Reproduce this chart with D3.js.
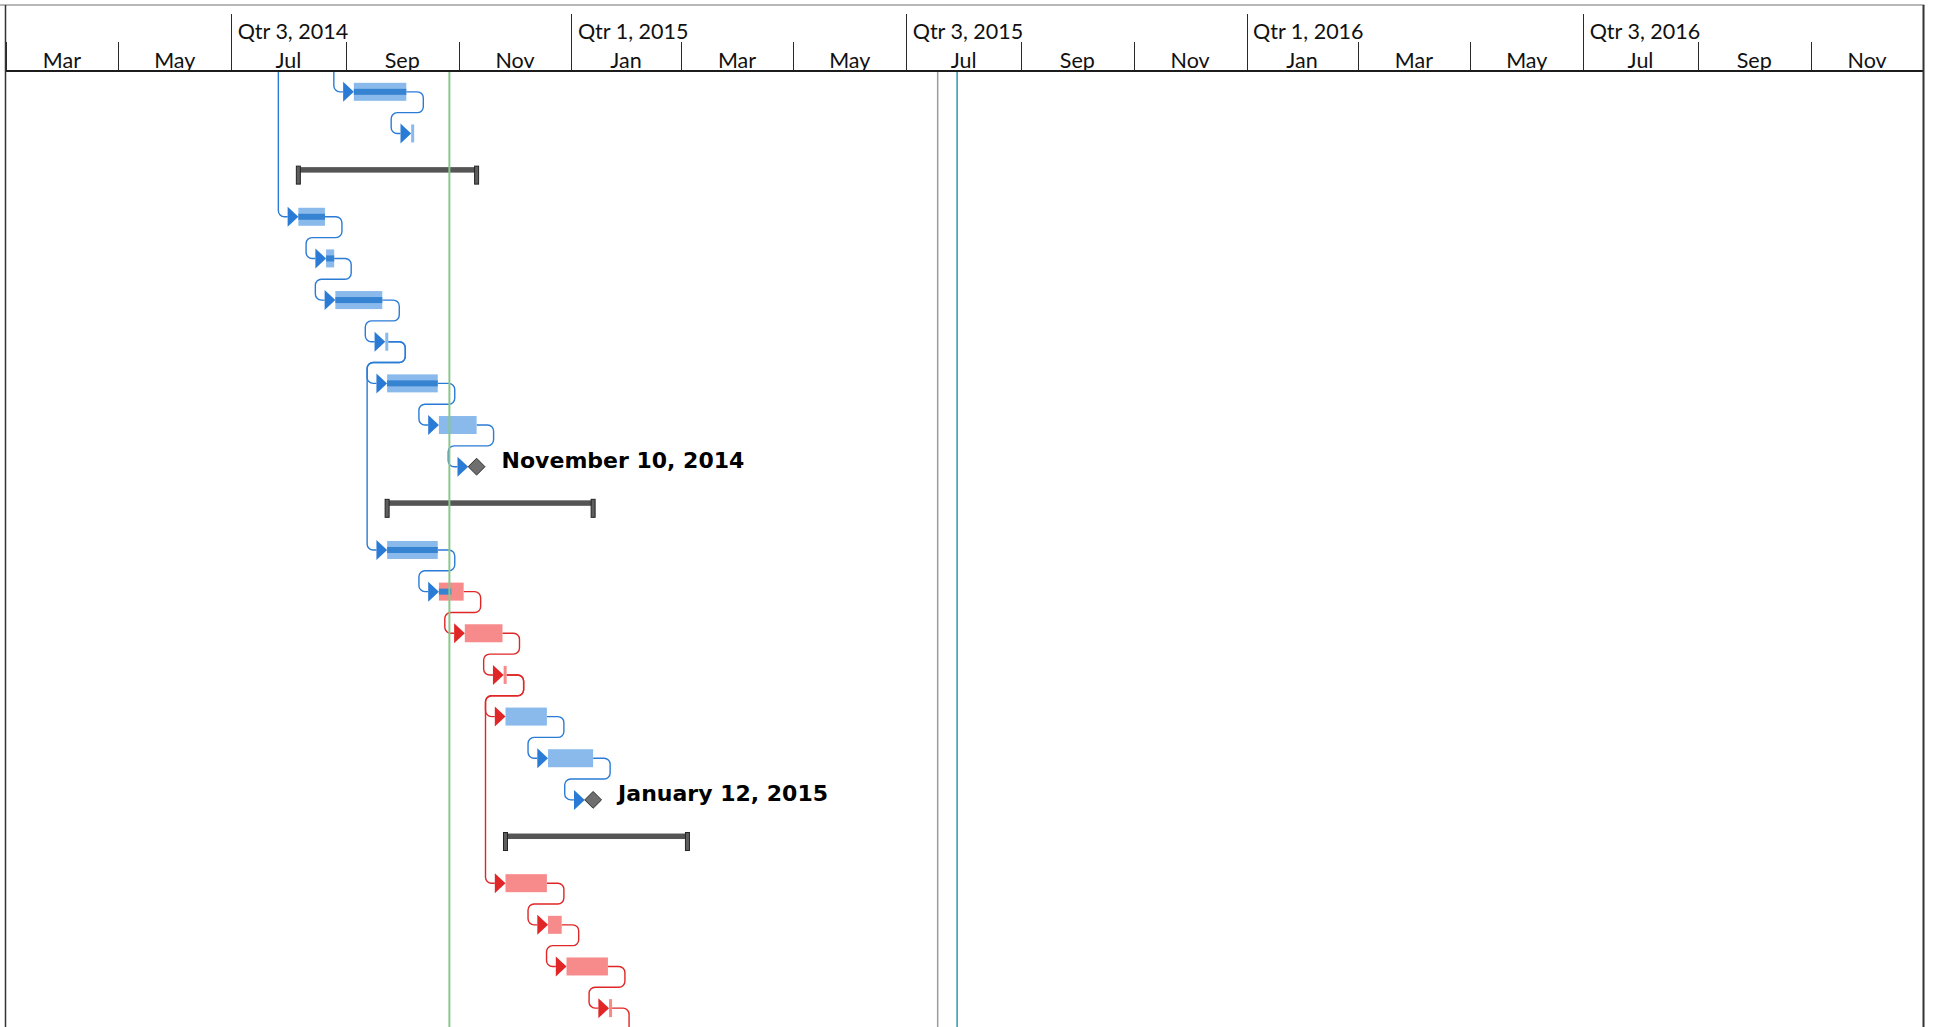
<!DOCTYPE html>
<html>
<head>
<meta charset="utf-8">
<script src="https://cdn.jsdelivr.net/npm/d3@7"></script>
<style>
  html, body { margin: 0; padding: 0; background: #fff; overflow: hidden; }
  svg { display: block; }
</style>
</head>
<body>
<svg id="chart" width="1937" height="1027"></svg>
<script>
// ---- Timescale tiers ----
const quarterStarts = ["2014-07-01", "2015-01-01", "2015-07-01", "2016-01-01", "2016-07-01"];
const quarterLabels = ["Qtr 3, 2014", "Qtr 1, 2015", "Qtr 3, 2015", "Qtr 1, 2016", "Qtr 3, 2016"];
const monthStarts = ["2014-03-01", "2014-05-01", "2014-07-01", "2014-09-01", "2014-11-01",
                     "2015-01-01", "2015-03-01", "2015-05-01", "2015-07-01", "2015-09-01", "2015-11-01",
                     "2016-01-01", "2016-03-01", "2016-05-01", "2016-07-01", "2016-09-01", "2016-11-01"];
const monthLabels = ["Mar", "May", "Jul", "Sep", "Nov",
                     "Jan", "Mar", "May", "Jul", "Sep", "Nov",
                     "Jan", "Mar", "May", "Jul", "Sep", "Nov"];
const viewStart = "2014-03-01";
const viewEnd = "2017-01-01";

// ---- Tasks, one entry per row ----
const taskKind = ["task", "task", "summary", "task", "task", "task", "task", "task", "task", "milestone",
                  "summary", "task", "task", "task", "task", "task", "task", "milestone",
                  "summary", "task", "task", "task", "task"];
const taskStart = ["2014-09-05 08:00", "2014-10-06 08:00", "2014-08-06 08:00", "2014-08-06 08:00",
                   "2014-08-21 08:00", "2014-08-26 08:00", "2014-09-22 08:00", "2014-09-23 08:00",
                   "2014-10-21 08:00", "2014-11-10 17:00", "2014-09-23 08:00", "2014-09-23 08:00",
                   "2014-10-21 08:00", "2014-11-04 08:00", "2014-11-25 08:00", "2014-11-26 08:00",
                   "2014-12-19 08:00", "2015-01-12 17:00", "2014-11-26 08:00", "2014-11-26 08:00",
                   "2014-12-19 08:00", "2014-12-29 08:00", "2015-01-21 08:00"];
const taskFinish = ["2014-10-03 17:00", "2014-10-06 17:00", "2014-11-10 17:00", "2014-08-20 17:00",
                    "2014-08-25 17:00", "2014-09-20 17:00", "2014-09-22 17:00", "2014-10-20 17:00",
                    "2014-11-10 17:00", "2014-11-10 17:00", "2015-01-12 17:00", "2014-10-20 17:00",
                    "2014-11-03 17:00", "2014-11-24 17:00", "2014-11-25 17:00", "2014-12-18 17:00",
                    "2015-01-12 17:00", "2015-01-12 17:00", "2015-03-04 17:00", "2014-12-18 17:00",
                    "2014-12-26 17:00", "2015-01-20 17:00", "2015-01-21 17:00"];
const taskCritical = [0, 0, 0, 0, 0, 0, 0, 0, 0, 0, 0, 0, 1, 1, 1, 0, 0, 0, 0, 1, 1, 1, 1];
const taskProgress = [1, 0, 0, 1, 1, 1, 0, 1, 0, 0, 0, 1, 0.5, 0, 0, 0, 0, 0, 0, 0, 0, 0, 0];
const taskLabel = ["", "", "", "", "", "", "", "", "", "November 10, 2014",
                   "", "", "", "", "", "", "", "January 12, 2015",
                   "", "", "", "", ""];

// ---- Finish-to-start links (null = the other end lies outside the visible rows) ----
const linkFrom     = [null, 0, null, 3, 4, 5, 6, 6, 7, 8, 11, 12, 13, 14, 14, 15, 16, 19, 20, 21, 22];
const linkTo       = [0, 1, 3, 4, 5, 6, 7, 11, 8, 9, 12, 13, 14, 15, 19, 16, 17, 20, 21, 22, null];
const linkCritical = [0, 0, 0, 0, 0, 0, 0, 0, 0, 0, 0, 1, 1, 1, 1, 0, 0, 1, 1, 1, 1];

// ---- Vertical date lines: status date, current date, project marker ----
const markerDates = ["2014-10-27 00:00", "2015-07-18 00:00", "2015-07-28 12:00"];

// ---------------------------------------------------------------
const W = 1937, H = 1027;
const left = 5.5, right = 1923.5;
const headTop = 5, headBottom = 71, rowH = 41.65;
const parseDay = d3.timeParse("%Y-%m-%d");
const parseTime = d3.timeParse("%Y-%m-%d %H:%M");

const x = d3.scaleTime().domain([parseDay(viewStart), parseDay(viewEnd)]).range([left, right]);
const rows = d3.range(taskKind.length);
const y = d3.scaleBand().domain(rows).range([headBottom, headBottom + rows.length * rowH]);
const cy = i => y(i) + y.bandwidth() / 2;

const tasks = rows.map(i => ({
  i, kind: taskKind[i], s: parseTime(taskStart[i]), f: parseTime(taskFinish[i]),
  crit: !!taskCritical[i], prog: taskProgress[i], label: taskLabel[i]
}));

const COLORS = {
  bar: "#8abaec", barCrit: "#f78a8a", progress: "#3683d2",
  link: "#2a7bd6", linkCrit: "#e02626",
  summary: "#555555", cap: "#5e5e5e", capStroke: "#242424",
  diamond: "#6f6f6f", diamondStroke: "#2e2e2e"
};
const BAR_H = 18, PROG_H = 6, MIN_W = 3, TRI_W = 10.7, TRI_H = 20, DIAMOND = 8.4;
const STUB = 17, LEAD = 9.3, CORNER = 6;
const HEAD_FONT = "Lato, 'Open Sans', sans-serif";

// geometry helpers for each task
function drawnLeft(t) {
  return t.kind === "milestone" ? x(t.f) - DIAMOND : x(t.s);
}
function drawnRight(t) {
  if (t.kind === "milestone") return x(t.f) + DIAMOND;
  return x(t.s) + Math.max(x(t.f) - x(t.s), MIN_W);
}

const svg = d3.select("#chart");
const defs = svg.append("defs");
defs.append("clipPath").attr("id", "clip-head").append("rect")
  .attr("x", left).attr("y", 0).attr("width", right - left).attr("height", headBottom);
defs.append("clipPath").attr("id", "clip-body").append("rect")
  .attr("x", left).attr("y", headBottom).attr("width", right - left).attr("height", H - headBottom);

// ---- Header ----
const head = svg.append("g").attr("clip-path", "url(#clip-head)");
const months = monthStarts.map(parseDay);
head.selectAll("line.month").data(months).join("line")
  .attr("class", "month")
  .attr("x1", d => Math.round(x(d)) + 0.5).attr("x2", d => Math.round(x(d)) + 0.5)
  .attr("y1", 42).attr("y2", headBottom)
  .attr("stroke", "#2a2a2a").attr("stroke-width", 1);
head.selectAll("text.month").data(months).join("text")
  .attr("class", "month")
  .attr("x", d => (x(d) + x(d3.timeMonth.offset(d, 2))) / 2)
  .attr("y", 68)
  .attr("text-anchor", "middle")
  .attr("font-family", HEAD_FONT)
  .attr("font-size", 21.5)
  .attr("fill", "#111")
  .text((d, k) => monthLabels[k]);

const quarters = quarterStarts.map(parseDay);
head.selectAll("line.qtr").data(quarters).join("line")
  .attr("class", "qtr")
  .attr("x1", d => Math.round(x(d)) + 0.5).attr("x2", d => Math.round(x(d)) + 0.5)
  .attr("y1", 14).attr("y2", headBottom)
  .attr("stroke", "#2a2a2a").attr("stroke-width", 1);
head.selectAll("text.qtr").data(quarters).join("text")
  .attr("class", "qtr")
  .attr("x", d => x(d) + 6.5)
  .attr("y", 39)
  .attr("font-family", HEAD_FONT)
  .attr("font-size", 21.5)
  .attr("fill", "#111")
  .text((d, k) => quarterLabels[k]);

// ---- Body ----
const body = svg.append("g").attr("clip-path", "url(#clip-body)");

// links
const linkG = body.append("g").attr("fill", "none").attr("stroke-width", 1.4);
const triG = body.append("g");
linkFrom.forEach((from, k) => {
  const to = linkTo[k];
  const color = linkCritical[k] ? COLORS.linkCrit : COLORS.link;
  let pts;
  if (from === null) {
    const t = tasks[to];
    const xt = drawnLeft(t) - TRI_W;
    pts = [[xt - LEAD, headBottom - 2], [xt - LEAD, cy(to)], [xt, cy(to)]];
  } else if (to === null) {
    const sT = tasks[from];
    const xe = drawnRight(sT);
    pts = [[xe, cy(from)], [xe + STUB, cy(from)], [xe + STUB, H + 20]];
  } else {
    const sT = tasks[from], tT = tasks[to];
    const xe = drawnRight(sT), ya = cy(from), yb = cy(to);
    const xt = drawnLeft(tT) - TRI_W;
    if (xt - LEAD >= xe + STUB) {
      pts = [[xe, ya], [xt - LEAD, ya], [xt - LEAD, yb], [xt, yb]];
    } else {
      const ym = ya + rowH / 2;
      pts = [[xe, ya], [xe + STUB, ya], [xe + STUB, ym], [xt - LEAD, ym], [xt - LEAD, yb], [xt, yb]];
    }
  }
  const p = d3.path();
  p.moveTo(pts[0][0], pts[0][1]);
  for (let j = 1; j < pts.length - 1; j++) {
    p.arcTo(pts[j][0], pts[j][1], pts[j + 1][0], pts[j + 1][1], CORNER);
  }
  p.lineTo(pts[pts.length - 1][0], pts[pts.length - 1][1]);
  linkG.append("path").attr("d", p.toString()).attr("stroke", color);

  if (to !== null) {
    const xt = drawnLeft(tasks[to]) - TRI_W, yc = cy(to);
    triG.append("path")
      .attr("d", `M${xt},${yc - TRI_H / 2}L${xt + TRI_W},${yc}L${xt},${yc + TRI_H / 2}Z`)
      .attr("fill", color);
  }
});

// task bars
const barG = body.insert("g", () => triG.node());
const plain = tasks.filter(t => t.kind === "task");
barG.selectAll("rect.bar").data(plain).join("rect")
  .attr("class", "bar")
  .attr("x", t => x(t.s))
  .attr("y", t => cy(t.i) - BAR_H / 2)
  .attr("width", t => drawnRight(t) - x(t.s))
  .attr("height", BAR_H)
  .attr("fill", t => t.crit ? COLORS.barCrit : COLORS.bar);
barG.selectAll("rect.prog").data(plain.filter(t => t.prog > 0)).join("rect")
  .attr("class", "prog")
  .attr("x", t => x(t.s))
  .attr("y", t => cy(t.i) - PROG_H / 2)
  .attr("width", t => (drawnRight(t) - x(t.s)) * t.prog)
  .attr("height", PROG_H)
  .attr("fill", COLORS.progress);

// summary bars
const sums = tasks.filter(t => t.kind === "summary");
barG.selectAll("rect.sum").data(sums).join("rect")
  .attr("class", "sum")
  .attr("x", t => x(t.s))
  .attr("y", t => cy(t.i) - 8)
  .attr("width", t => x(t.f) - x(t.s))
  .attr("height", 5.5)
  .attr("fill", COLORS.summary);
const caps = sums.flatMap(t => [{ t, d: t.s }, { t, d: t.f }]);
barG.selectAll("rect.cap").data(caps).join("rect")
  .attr("class", "cap")
  .attr("x", c => x(c.d) - 2)
  .attr("y", c => cy(c.t.i) - 9)
  .attr("width", 4)
  .attr("height", 18)
  .attr("fill", COLORS.cap)
  .attr("stroke", COLORS.capStroke)
  .attr("stroke-width", 1);

// milestones
const miles = tasks.filter(t => t.kind === "milestone");
const mileG = body.append("g");
mileG.selectAll("path").data(miles).join("path")
  .attr("d", t => {
    const mx = x(t.f), my = cy(t.i);
    return `M${mx - DIAMOND},${my}L${mx},${my - DIAMOND}L${mx + DIAMOND},${my}L${mx},${my + DIAMOND}Z`;
  })
  .attr("fill", COLORS.diamond)
  .attr("stroke", COLORS.diamondStroke)
  .attr("stroke-width", 1);
mileG.selectAll("text").data(miles).join("text")
  .attr("x", t => x(t.f) + 25)
  .attr("y", t => cy(t.i) + 1)
  .attr("font-family", "'DejaVu Sans', sans-serif")
  .attr("font-weight", "bold")
  .attr("font-size", 22)
  .attr("fill", "#000")
  .text(t => t.label);

// vertical date lines
const markerStyle = [
  { color: "#8cc68c", width: 2 },
  { color: "#9c9c9c", width: 1.5 },
  { color: "#2f9aa6", width: 1.5 }
];
body.selectAll("line.marker").data(markerDates.map(parseTime)).join("line")
  .attr("class", "marker")
  .attr("x1", d => x(d)).attr("x2", d => x(d))
  .attr("y1", headBottom).attr("y2", H)
  .attr("stroke", (d, k) => markerStyle[k].color)
  .attr("stroke-width", (d, k) => markerStyle[k].width);

// ---- Frame ----
const frame = svg.append("g").attr("fill", "none");
frame.append("line").attr("x1", 0).attr("x2", right + 1).attr("y1", headTop).attr("y2", headTop)
  .attr("stroke", "#a0a0a0").attr("stroke-width", 1.5);
frame.append("line").attr("x1", left).attr("x2", right).attr("y1", headBottom).attr("y2", headBottom)
  .attr("stroke", "#1c1c1c").attr("stroke-width", 2);
frame.append("line").attr("x1", left).attr("x2", left).attr("y1", headTop).attr("y2", H)
  .attr("stroke", "#333").attr("stroke-width", 1.5);
frame.append("line").attr("x1", right).attr("x2", right).attr("y1", headTop).attr("y2", H)
  .attr("stroke", "#333").attr("stroke-width", 2);
</script>
</body>
</html>
